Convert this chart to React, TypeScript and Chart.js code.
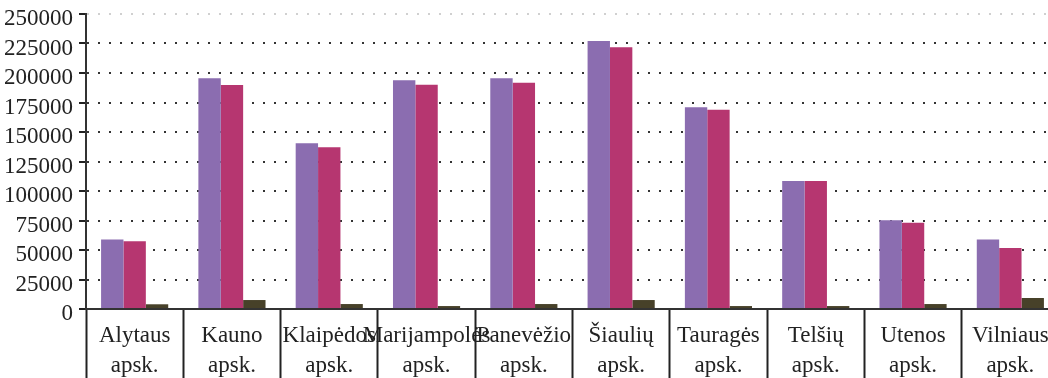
import React, { useEffect, useRef } from "react";
import { Chart, registerables } from "chart.js";

Chart.register(...registerables);

const categories: string[][] = [
  ["Alytaus", "apsk."],
  ["Kauno", "apsk."],
  ["Klaipėdos", "apsk."],
  ["Marijampolės", "apsk."],
  ["Panevėžio", "apsk."],
  ["Šiaulių", "apsk."],
  ["Tauragės", "apsk."],
  ["Telšių", "apsk."],
  ["Utenos", "apsk."],
  ["Vilniaus", "apsk."],
];

const series1: number[] = [59000, 195500, 140400, 193800, 195500, 227100, 170900, 108500, 75200, 59000];
const series2: number[] = [57400, 189800, 137000, 190100, 191800, 221800, 168900, 108500, 73100, 51700];
const series3: number[] = [4000, 7600, 4200, 2500, 4200, 7600, 2500, 2500, 4200, 9300];

const yMin = 0;
const yMax = 250000;
const yStep = 25000;

export default function App() {
  const ref = useRef<HTMLCanvasElement | null>(null);

  useEffect(() => {
    if (!ref.current) return;
    const chart = new Chart(ref.current, {
      type: "bar",
      data: {
        labels: categories,
        datasets: [
          { label: "1", data: series1, backgroundColor: "#8B6DB0", borderWidth: 0 },
          { label: "2", data: series2, backgroundColor: "#B63670", borderWidth: 0 },
          { label: "3", data: series3, backgroundColor: "#474129", borderWidth: 0 },
        ],
      },
      options: {
        responsive: false,
        animation: false,
        events: [],
        layout: { padding: { top: 14, right: 3, left: 0, bottom: 0 } },
        plugins: {
          legend: { display: false },
          tooltip: { enabled: false },
          title: { display: false },
        },
        datasets: {
          bar: { categoryPercentage: 0.69, barPercentage: 1.0 },
        },
        scales: {
          x: {
            offset: true,
            grid: {
              display: true,
              offset: true,
              drawOnChartArea: false,
              drawTicks: true,
              tickLength: 80,
              tickColor: "#222",
              tickWidth: 2,
            },
            border: { display: true, color: "#333", width: 2 },
            ticks: {
              autoSkip: false,
              maxRotation: 0,
              minRotation: 0,
              padding: -68,
              color: "#222",
              font: { family: "'Liberation Serif', 'Times New Roman', serif", size: 23, lineHeight: 1.3 },
            },
            afterFit: (scale: any) => {
              scale.height = 69;
              scale.paddingLeft = 0;
              scale.paddingRight = 0;
            },
          },
          y: {
            min: yMin,
            max: yMax,
            grid: {
              display: true,
              drawTicks: true,
              tickLength: 7,
              tickColor: "#222",
              tickWidth: 2,
              tickBorderDash: [],
              lineWidth: 2,
              color: (ctx: any) => (ctx.tick && ctx.tick.value === yMax ? "#d0d0d0" : "#333"),
            },
            border: { display: true, color: "#333", width: 2, dash: [2, 9] },
            ticks: {
              stepSize: yStep,
              autoSkip: false,
              padding: 6,
              labelOffset: 5,
              color: "#222",
              font: { family: "'Liberation Serif', 'Times New Roman', serif", size: 23 },
              callback: (v: any) => String(v),
            },
            afterFit: (scale: any) => {
              scale.width = 86;
              scale.paddingTop = 0;
              scale.paddingBottom = 0;
            },
          },
        },
      },
    });
    return () => chart.destroy();
  }, []);

  return (
    <div
      style={{
        position: "absolute",
        left: 0,
        top: 0,
        width: 1048,
        height: 378,
        overflow: "hidden",
        background: "#fff",
      }}
    >
      <canvas ref={ref} width={1062} height={378} style={{ display: "block", width: 1062, height: 378 }} />
    </div>
  );
}
